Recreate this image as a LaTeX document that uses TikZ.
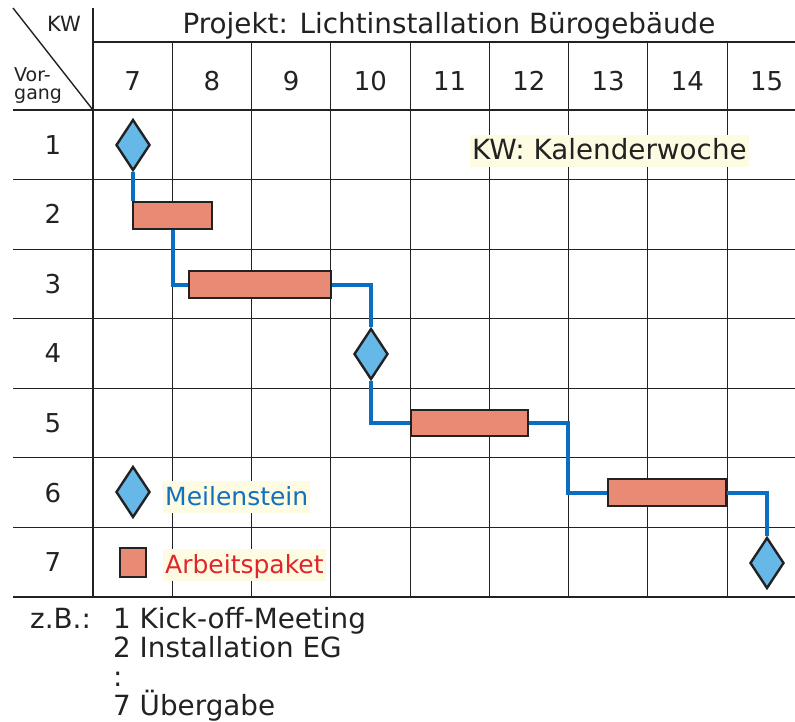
\documentclass[tikz,border=0pt]{standalone}
\usepackage{fontspec}
\setmainfont{DejaVu Sans}
\usetikzlibrary{shapes.geometric}

\definecolor{msblue}{HTML}{66B8E8}
\definecolor{apred}{HTML}{E88A74}
\definecolor{linkblue}{HTML}{0A6FC2}
\definecolor{notebg}{HTML}{FDFBE2}
\definecolor{msltext}{HTML}{1170C0}
\definecolor{aptext}{HTML}{E2242B}
\definecolor{ink}{HTML}{222222}

\begin{document}
\begin{tikzpicture}[x=1pt,y=-1pt,
  grid/.style={draw=ink,line width=1.4pt},
  frame/.style={draw=ink,line width=2.6pt},
  milestone/.style={diamond,draw=ink,line width=2.4pt,fill=msblue,inner sep=0pt,minimum width=34pt,minimum height=51pt},
  task/.style={rectangle,draw=ink,line width=2.4pt,fill=apred,inner sep=0pt,minimum height=26.5pt},
  link/.style={draw=linkblue,line width=4pt},
  big/.style={font=\fontsize{26}{30}\selectfont,text=ink},
  txt/.style={font=\fontsize{27.8}{29}\selectfont,text=ink},
  note/.style={fill=notebg,inner xsep=2pt,inner ysep=3pt,text height=21pt,text depth=5pt,anchor=base west}]

\useasboundingbox (0,0) rectangle (795,721);

% grid
\foreach \x in {172.5,251.5,330.5,410.5,489.5,568.5,647.5,727.5}
  \draw[grid] (\x,42) -- (\x,597);
\foreach \y in {179.5,249.5,318.5,388.5,457.5,527.5}
  \draw[grid] (13,\y) -- (795,\y);
\draw[frame] (93,8) -- (93,597);
\draw[grid,line width=2pt] (93,42) -- (795,42);
\draw[frame] (13,110) -- (795,110);
\draw[frame] (13,597) -- (795,597);
\draw[draw=ink,line width=1.4pt] (13,8) -- (93,110);

% head
\node[font=\fontsize{21}{21}\selectfont,text=ink,anchor=base] (kw) at (64,31) {KW};
\node[font=\fontsize{19}{17.5}\selectfont,text=ink,align=left,anchor=base west,inner sep=0pt] (vorgang) at (14,99) {Vor-\\gang};
\node[txt,anchor=base] (title) at (449,33) {Projekt: Lichtinstallation Bürogebäude};
\foreach \k [count=\i from 0] in {7,...,15}
  \node[big,anchor=base] (week\k) at (132.6+79.25*\i,90) {\k};
\foreach \r in {1,...,7}
  \node[big,anchor=base] (step\r) at (53,110+69.57*\r-25.3) {\r};

% plan
\node[milestone] (m1) at (133,145) {};
\node[task,minimum width=78.5pt] (p2) at (172.5,215.5) {};
\node[task,minimum width=141.5pt] (p3) at (260,284.5) {};
\node[milestone] (m4) at (371,354) {};
\node[task,minimum width=116.5pt] (p5) at (469.5,423) {};
\node[task,minimum width=117.5pt] (p6) at (667,492.5) {};
\node[milestone] (m7) at (767,563) {};

\draw[link] (m1.south) -- (m1.south |- p2.north);
\draw[link] (p2.south) |- (p3.west);
\draw[link] (p3.east) -| (m4.north);
\draw[link] (m4.south) |- (p5.west);
\draw[link] (p5.east) -- ++(39,0) |- (p6.west);
\draw[link] (p6.east) -| (m7.north);

% legend
\node[txt,note] (kwnote) at (470,159) {KW: Kalenderwoche};
\node[milestone] (lm) at (133,492) {};
\node[note,font=\fontsize{25}{29}\selectfont,text=msltext] (lmtext) at (163,505) {Meilenstein};
\node[task,minimum width=26pt,minimum height=28.5pt] (lp) at (133,562.5) {};
\node[note,font=\fontsize{25}{29}\selectfont,text=aptext] (lptext) at (163,573) {Arbeitspaket};

% example
\node[txt,anchor=base west,inner sep=0pt] (zb) at (30,628) {z.B.:};
\node[txt,align=left,anchor=base west,inner sep=0pt] (list) at (113,715) {1 Kick-off-Meeting\\2 Installation EG\\:\\7 Übergabe};
\end{tikzpicture}
\end{document}
